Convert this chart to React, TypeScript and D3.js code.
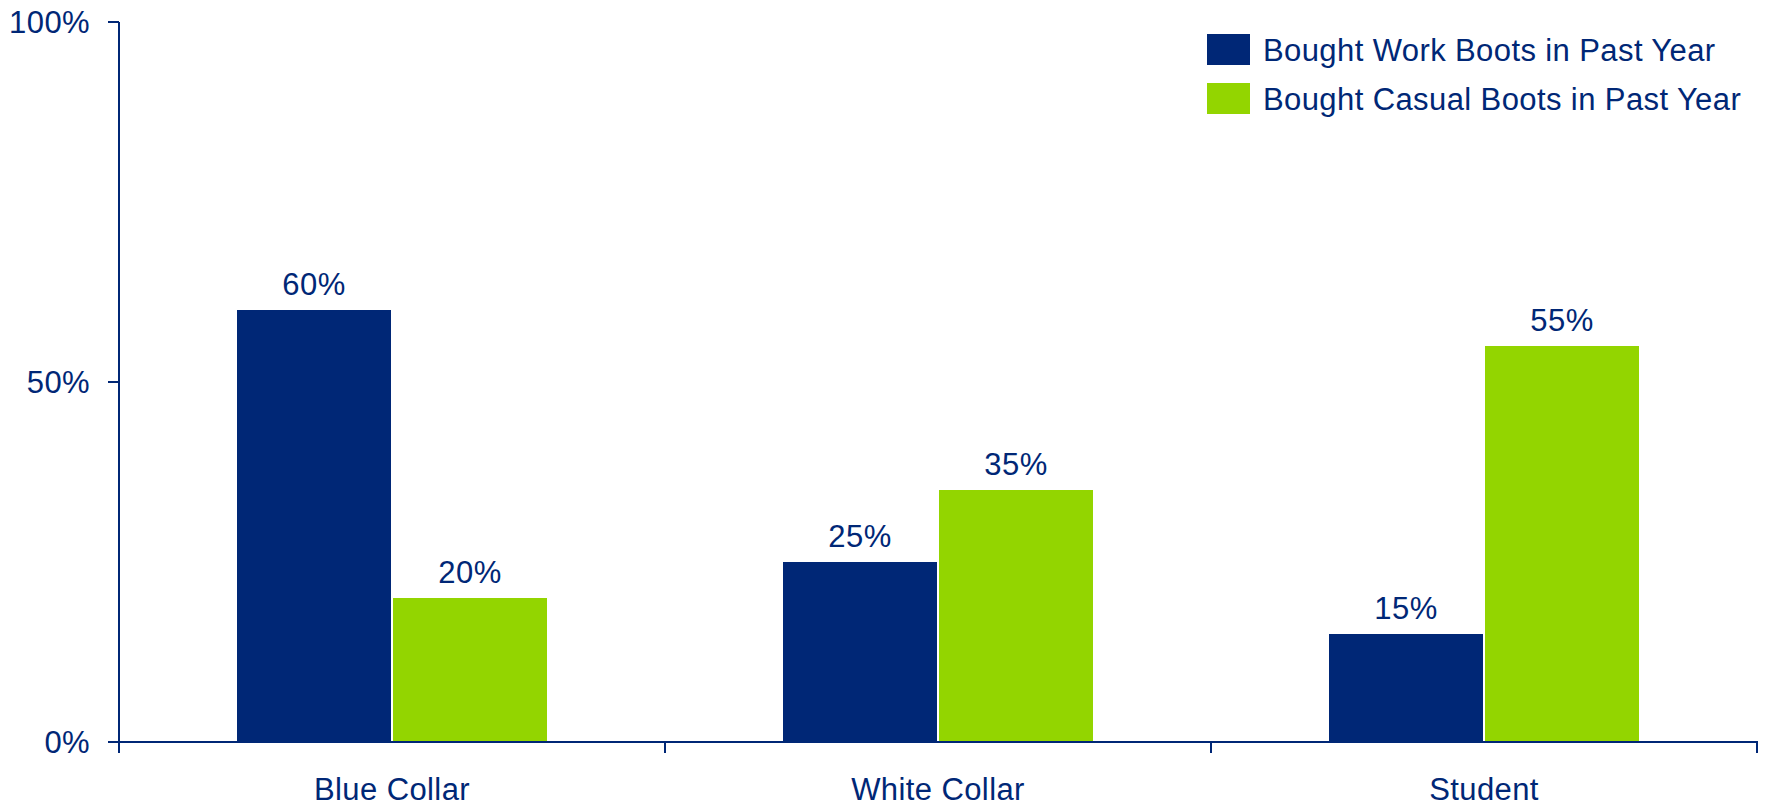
import React from "react";
import * as d3 from "d3";

const categories = ["Blue Collar", "White Collar", "Student"];
const seriesNames = ["Bought Work Boots in Past Year", "Bought Casual Boots in Past Year"];
const workBoots = [60, 25, 15];
const casualBoots = [20, 35, 55];
const yTicks = [0, 50, 100];

const W = 1766;
const H = 809;
const NAVY = "#002776";
const GREEN = "#93D500";
const TEXT = "#002776";
const FONT = "Liberation Sans, Arial, sans-serif";
const FS = 31;
const LS = 0.4;

export default function App() {
  const left = 119;
  const right = 1757;
  const top = 22;
  const bottom = 742;

  const x = d3.scaleBand<string>().domain(categories).range([left, right]).paddingInner(0).paddingOuter(0);
  const y = d3.scaleLinear().domain([0, 100]).range([bottom, top]);
  const barW = 154;
  const gap = 2;
  const series = [
    { name: seriesNames[0], values: workBoots, color: NAVY },
    { name: seriesNames[1], values: casualBoots, color: GREEN },
  ];
  const bandEdges = [...categories.map((c) => x(c)!), right];

  return (
    <svg width={W} height={H} style={{ position: "absolute", left: 0, top: 0, background: "#fff" }} fontFamily={FONT}>
      {categories.map((c, i) => {
        const cx = x(c)! + x.bandwidth() / 2;
        return series.map((s, j) => {
          const bx = j === 0 ? cx - gap / 2 - barW : cx + gap / 2;
          const v = s.values[i];
          return (
            <g key={c + j}>
              <rect x={bx} y={y(v)} width={barW} height={y(0) - y(v)} fill={s.color} />
              <text x={bx + barW / 2} y={y(v) - 15} textAnchor="middle" fontSize={FS} letterSpacing={LS} fill={TEXT}>
                {v}%
              </text>
            </g>
          );
        });
      })}
      <line x1={left} x2={left} y1={top} y2={bottom + 11} stroke={NAVY} strokeWidth={2} />
      {yTicks.map((t) => (
        <g key={t}>
          <line x1={left - 11} x2={left} y1={y(t)} y2={y(t)} stroke={NAVY} strokeWidth={2} />
          <text x={90} y={y(t)} dy="0.35em" textAnchor="end" fontSize={FS} letterSpacing={LS} fill={TEXT}>
            {t}%
          </text>
        </g>
      ))}
      <line x1={left - 11} x2={right + 1} y1={bottom} y2={bottom} stroke={NAVY} strokeWidth={2} />
      {bandEdges.map((e, i) => (
        <line key={i} x1={e} x2={e} y1={bottom} y2={bottom + 11} stroke={NAVY} strokeWidth={2} />
      ))}
      {categories.map((c) => (
        <text key={c} x={x(c)! + x.bandwidth() / 2} y={800} textAnchor="middle" fontSize={FS} letterSpacing={LS} fill={TEXT}>
          {c}
        </text>
      ))}
      {series.map((s, j) => (
        <g key={s.name}>
          <rect x={1207} y={34 + j * 49} width={43} height={31} fill={s.color} />
          <text x={1263} y={61 + j * 49} fontSize={FS} letterSpacing={LS} fill={TEXT}>
            {s.name}
          </text>
        </g>
      ))}
    </svg>
  );
}
